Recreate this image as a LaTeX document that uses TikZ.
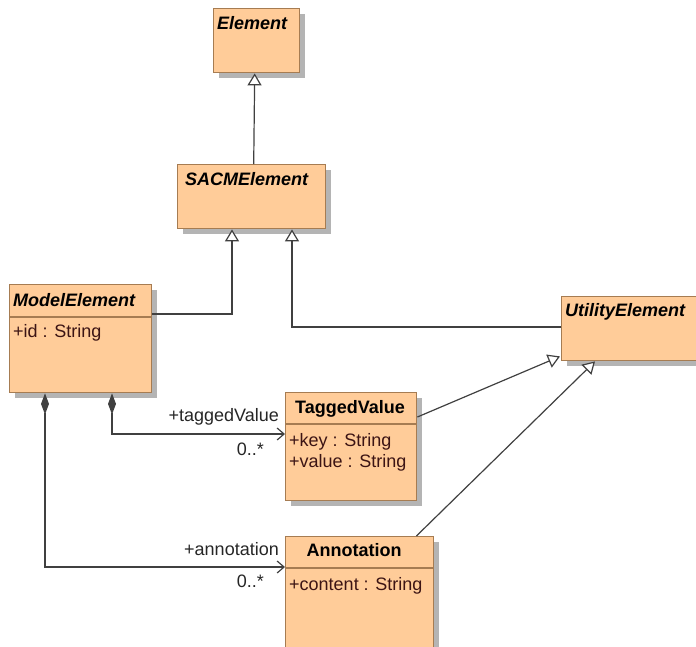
\documentclass[tikz,border=0pt]{standalone}
\usepackage{fontspec}
\setmainfont{Liberation Sans}
\usetikzlibrary{arrows.meta,calc,shadows}
\definecolor{boxfill}{HTML}{FFCC99}
\definecolor{boxline}{HTML}{A67C52}
\definecolor{shadowc}{HTML}{B4B4B4}
\definecolor{linec}{HTML}{404040}
\definecolor{attrc}{HTML}{3C1414}
\tikzset{
  umlbox/.style={draw=boxline, line width=1.4pt, fill=boxfill, rectangle, inner sep=0pt,
    anchor=north west,
    drop shadow={shadow xshift=5pt, shadow yshift=-5pt, fill=shadowc, opacity=1}},
  hdr/.style={font=\fontsize{18}{20}\selectfont\bfseries\itshape, text=black, inner sep=0pt, anchor=base west},
  hdrc/.style={font=\fontsize{18}{20}\selectfont\bfseries, text=black, inner sep=0pt, anchor=base},
  attr/.style={font=\fontsize{18}{20}\selectfont, text=attrc, inner sep=0pt, anchor=base west},
  lbl/.style={font=\fontsize{18}{20}\selectfont, text=black!85, inner sep=0pt, anchor=base east},
  sep/.style={draw=boxline, line width=1.2pt},
  gen/.style={draw=linec, line width=1.2pt, -{Triangle[open, length=12pt, width=14pt, fill=white]}},
  comp/.style={draw=linec, line width=1.2pt, {Diamond[length=21pt, width=8pt, fill=linec]}-{Straight Barb[length=7pt, width=12pt]}}
}
\begin{document}
\begin{tikzpicture}[x=1pt,y=-1pt]
\useasboundingbox (0,0) rectangle (696,646);
\clip (0,0) rectangle (696,646);
% boxes
\node[umlbox, minimum width=86pt, minimum height=64pt] (element) at (213,8) {};
\node[umlbox, minimum width=148pt, minimum height=64pt] (sacme) at (177,164) {};
\node[umlbox, minimum width=142pt, minimum height=108pt] (model) at (9,284) {};
\node[umlbox, minimum width=145pt, minimum height=64pt] (util) at (561,296) {};
\node[umlbox, minimum width=131pt, minimum height=108pt] (tv) at (285,392) {};
\node[umlbox, minimum width=148pt, minimum height=112pt] (ann) at (285,536) {};
% separators
\draw[sep] ($(model.north west)+(0,33)$) -- ($(model.north east)+(0,33)$);
\draw[sep] ($(tv.north west)+(0,32)$) -- ($(tv.north east)+(0,32)$);
\draw[sep] ($(ann.north west)+(0,32)$) -- ($(ann.north east)+(0,32)$);
% headers
\node[hdr] (elementT) at (217,29) {Element};
\node[hdr] (sacmeT) at (185,185) {SACMElement};
\node[hdr] (modelT) at (13,306) {ModelElement};
\node[hdr] (utilT) at (565,316) {UtilityElement};
\node[hdrc] (tvT) at (350,413) {TaggedValue};
\node[hdrc] (annT) at (354,556) {Annotation};
% attributes
\node[attr] (modelA) at (13,337) {+id : String};
\node[attr] (tvA1) at (289,446) {+key : String};
\node[attr] (tvA2) at (289,467) {+value : String};
\node[attr] (annA) at (289,590) {+content : String};
% generalizations
\draw[gen] ($(sacme.north)+(2,0)$) -- ($(element.south)+(-2,0)$);
\draw[gen] ($(model.north east)+(0,30)$) -| ($(sacme.south west)+(55,0)$);
\draw[gen] ($(util.north west)+(0,31)$) -| ($(sacme.south west)+(115,0)$);
\draw[gen] ($(tv.north east)+(0,25)$) -- ($(util.south west)+(-1,-5)$);
\draw[gen] ($(ann.north east)+(-18,0)$) -- ($(util.south west)+(34,0)$);
% compositions
\draw[comp] ($(model.south west)+(103,0)$) |- ($(tv.north west)+(0,42)$);
\draw[comp] ($(model.south west)+(36,0)$) |- ($(ann.north west)+(0,31)$);
% role labels
\node[lbl] (l1) at (279,421) {+taggedValue};
\node[lbl] (l2) at (264,455) {0..*};
\node[lbl] (l3) at (279,555) {+annotation};
\node[lbl] (l4) at (264,587) {0..*};
\end{tikzpicture}
\end{document}
